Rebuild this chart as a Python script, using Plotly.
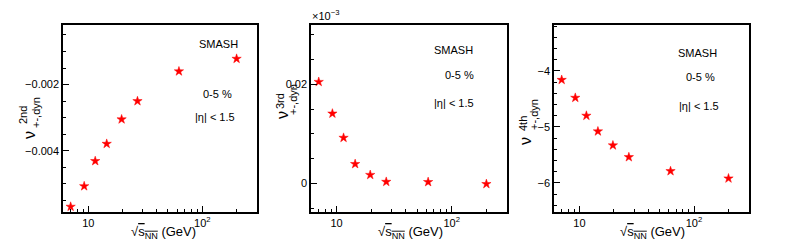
import plotly.graph_objects as go

W, H = 788, 249
OFF = 8  # default page body margin in the browser

energy = [7.0, 9.2, 11.5, 14.5, 19.6, 27.0, 62.4, 200.0]
v2nd = [-0.00569, -0.00507, -0.00431, -0.00379, -0.00305, -0.00250, -0.00160, -0.00122]
v3rd_e3 = [0.0205, 0.0141, 0.0092, 0.0039, 0.0017, 0.0003, 0.00026, -0.00014]  # in units of 1e-3
v4th = [-4.16, -4.48, -4.80, -5.08, -5.33, -5.54, -5.79, -5.92]

xtick_vals = [10, 100]
xtick_text = ["10", "10<sup>2</sup>"]
xminor_vals = [6, 7, 8, 9, 20, 30, 40, 50, 60, 70, 80, 90, 200, 300]

FONT = "Liberation Sans, Arial, sans-serif"

def px(x):
    return (x - OFF) / W

def py(y):
    return 1 - (y - OFF) / H

panels = [
    dict(x0=63, x1=257, yrange=[-0.00585, -0.0002], ytickvals=[-0.004, -0.002],
         yticktext=["\u22120.004", "\u22120.002"], yminor=0.0005, ydata=v2nd),
    dict(x0=311, x1=507, yrange=[-0.0058, 0.032], ytickvals=[0, 0.02],
         yticktext=["0", "0.02"], yminor=0.005, ydata=v3rd_e3),
    dict(x0=554, x1=749, yrange=[-6.52, -3.18], ytickvals=[-6, -5, -4],
         yticktext=["\u22126", "\u22125", "\u22124"], yminor=0.2, ydata=v4th),
]

fig = go.Figure()
layout = dict(width=W, height=H, margin=dict(l=0, r=0, t=0, b=0),
              paper_bgcolor="white", plot_bgcolor="white", showlegend=False,
              font=dict(family=FONT, size=11, color="black"))

for i, p in enumerate(panels, start=1):
    xa = "x" if i == 1 else f"x{i}"
    ya = "y" if i == 1 else f"y{i}"
    fig.add_trace(go.Scatter(x=energy, y=p["ydata"], mode="markers", xaxis=xa, yaxis=ya,
                             marker=dict(symbol="star", size=7, color="red",
                                         line=dict(width=0.5, color="red"))))
    layout[f"xaxis{'' if i == 1 else i}"] = dict(
        type="log", range=[0.778, 2.48], domain=[px(p["x0"]), px(p["x1"])],
        anchor=ya, showline=True, linecolor="black", linewidth=1.5, mirror=True,
        showgrid=False, zeroline=False, ticks="inside", ticklen=6, tickcolor="black",
        tickvals=xtick_vals, ticktext=xtick_text, tickfont=dict(size=11),
        minor=dict(ticks="inside", ticklen=3, tickcolor="black", tickvals=xminor_vals, showgrid=False))
    layout[f"yaxis{'' if i == 1 else i}"] = dict(
        range=p["yrange"], domain=[py(212), py(25)], anchor=xa,
        showline=True, linecolor="black", linewidth=1.5, mirror=True,
        showgrid=False, zeroline=False, ticks="inside", ticklen=6, tickcolor="black",
        tickvals=p["ytickvals"], ticktext=p["yticktext"], tickfont=dict(size=11),
        minor=dict(ticks="inside", ticklen=3, tickcolor="black", dtick=p["yminor"], showgrid=False))

fig.update_layout(**layout)

ann = []
def text(x, y, t, size=11, angle=0):
    ann.append(dict(x=px(x), y=py(y), xref="paper", yref="paper", text=t, showarrow=False,
                    xanchor="center", yanchor="middle", textangle=angle,
                    font=dict(family=FONT, size=size, color="black")))

# labels inside panels
for (sx, sy), (cx, cy), (ex, ey) in [((218, 44), (217, 94), (215, 117)),
                                     ((453, 50), (459, 75), (454, 103)),
                                     ((697, 53), (700, 77), (699, 106))]:
    text(sx, sy, "SMASH")
    text(cx, cy, "0-5 %")
    text(ex, ey, "|\u03b7| < 1.5")

# x axis titles
xt = "\u221a<span style='text-decoration:overline'>s<sub>NN</sub></span> (GeV)"
for cx in [163, 410, 652]:
    text(cx, 232, xt, size=13)

# y axis titles (stacked super/subscripts)
ylabels = [
    ((29, 135), (23, 115), (36, 113), "2nd"),
    ((282, 115), (280, 101), (293, 100), "3rd"),
    ((525, 141), (523, 124), (534, 115), "4th"),
]
for (vx, vy), (sx, sy), (bx, by), sup in ylabels:
    text(vx, vy, "\u03bd", size=16, angle=-90)
    text(sx, sy, sup, size=11, angle=-90)
    text(bx, by, "+-,dyn", size=11, angle=-90)

text(325, 15, "\u00d710<sup>\u22123</sup>", size=11)

fig.update_layout(annotations=ann)
fig.write_html("out.html")
